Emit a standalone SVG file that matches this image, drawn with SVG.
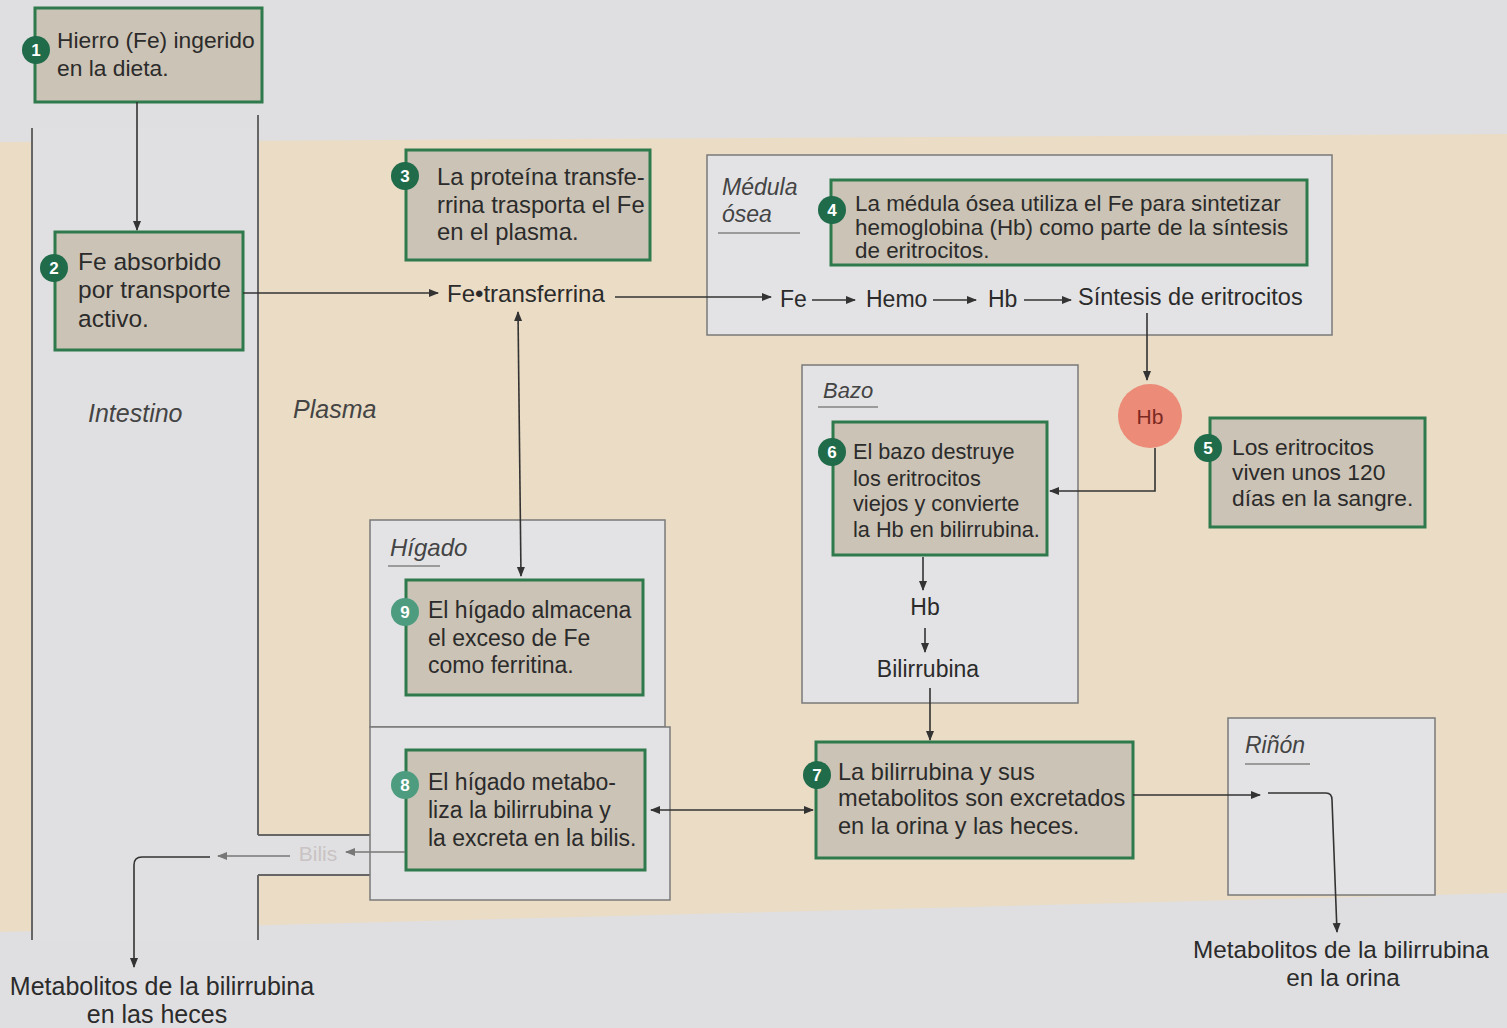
<svg xmlns="http://www.w3.org/2000/svg" width="1507" height="1028" viewBox="0 0 1507 1028">
<defs>
<marker id="ah" viewBox="0 0 10 10" refX="9" refY="5" markerWidth="10" markerHeight="10" markerUnits="userSpaceOnUse" orient="auto-start-reverse">
<path d="M0,1 L10,5 L0,9 Z" fill="#333"/>
</marker>
<marker id="ahl" viewBox="0 0 10 10" refX="9" refY="5" markerWidth="10" markerHeight="10" markerUnits="userSpaceOnUse" orient="auto-start-reverse">
<path d="M0,1 L10,5 L0,9 Z" fill="#777"/>
</marker>
<style>
text{font-family:"Liberation Sans",Arial,sans-serif;fill:#2b2b2b}
.lab{font-style:italic;fill:#444}
.node{fill:#cbc3b5;stroke:#2f7a4c;stroke-width:3}
.cont{fill:#e3e3e5;stroke:#7a7a7a;stroke-width:1.5}
.badge{fill:#1f6b4a}
.badge2{fill:#4d9c80}
.bn{font-size:17px;font-weight:bold;fill:#fff;text-anchor:middle}
.ul{stroke:#555;stroke-width:1.2}
.c{fill:none;stroke:#333;stroke-width:1.6}
.wall{stroke:#666;stroke-width:2}
</style>
</defs>
<rect x="0" y="0" width="1507" height="1028" fill="#dfdfe1"/>
<polygon points="0,142 1507,134 1507,893 0,932" fill="#eadcc5"/>
<!-- intestine column -->
<rect x="32" y="128" width="226" height="812" fill="#e0e0e2"/>
<rect x="258" y="835" width="112" height="40" fill="#e0e0e2"/>
<g id="intestine-walls">
<line class="wall" x1="32" y1="128" x2="32" y2="940"/>
<line class="wall" x1="258" y1="115" x2="258" y2="835"/>
<line class="wall" x1="258" y1="835" x2="370" y2="835"/>
<line class="wall" x1="258" y1="875" x2="370" y2="875"/>
<line class="wall" x1="258" y1="875" x2="258" y2="940"/>
</g>
<text class="lab" x="88" y="422" font-size="25">Intestino</text>
<text class="lab" x="293" y="418" font-size="25">Plasma</text>

<!-- containers -->
<g id="medula">
<rect class="cont" x="707" y="155" width="625" height="180"/>
<text class="lab" x="722" y="195" font-size="23">Médula</text>
<text class="lab" x="722" y="222" font-size="23">ósea</text>
<line class="ul" x1="718" y1="233" x2="800" y2="233"/>
</g>
<g id="bazo">
<rect class="cont" x="802" y="365" width="276" height="338"/>
<text class="lab" x="823" y="398" font-size="22">Bazo</text>
<line class="ul" x1="818" y1="407" x2="878" y2="407"/>
</g>
<g id="higado">
<rect class="cont" x="370" y="520" width="295" height="207"/>
<rect class="cont" x="370" y="727" width="300" height="173"/>
<text class="lab" x="390" y="556" font-size="24">Hígado</text>
<line class="ul" x1="388" y1="566" x2="440" y2="566"/>
</g>
<g id="rinon">
<rect class="cont" x="1228" y="718" width="207" height="177"/>
<text class="lab" x="1245" y="753" font-size="23">Riñón</text>
<line class="ul" x1="1245" y1="764" x2="1310" y2="764"/>
</g>

<!-- nodes -->
<g id="n1" font-size="22.8">
<rect class="node" x="35" y="8" width="227" height="94"/>
<circle class="badge" cx="36" cy="50" r="14"/><text class="bn" x="36" y="56">1</text>
<text x="57" y="48">Hierro (Fe) ingerido</text>
<text x="57" y="76">en la dieta.</text>
</g>
<g id="n2" font-size="24.5">
<rect class="node" x="55" y="232" width="188" height="118"/>
<circle class="badge" cx="54" cy="268" r="14"/><text class="bn" x="54" y="274">2</text>
<text x="78" y="270">Fe absorbido</text>
<text x="78" y="298">por transporte</text>
<text x="78" y="327">activo.</text>
</g>
<g id="n3" font-size="23.8">
<rect class="node" x="406" y="150" width="244" height="110"/>
<circle class="badge" cx="405" cy="176" r="14"/><text class="bn" x="405" y="182">3</text>
<text x="437" y="185">La proteína transfe-</text>
<text x="437" y="213">rrina trasporta el Fe</text>
<text x="437" y="240">en el plasma.</text>
</g>
<g id="n4" font-size="22.4">
<rect class="node" x="831" y="180" width="476" height="85"/>
<circle class="badge" cx="832" cy="210" r="14"/><text class="bn" x="832" y="216">4</text>
<text x="855" y="211">La médula ósea utiliza el Fe para sintetizar</text>
<text x="855" y="235">hemoglobina (Hb) como parte de la síntesis</text>
<text x="855" y="258">de eritrocitos.</text>
</g>
<g id="n5" font-size="22.8">
<rect class="node" x="1210" y="418" width="215" height="109"/>
<circle class="badge" cx="1208" cy="448" r="14"/><text class="bn" x="1208" y="454">5</text>
<text x="1232" y="455">Los eritrocitos</text>
<text x="1232" y="480">viven unos 120</text>
<text x="1232" y="506">días en la sangre.</text>
</g>
<g id="n6" font-size="21.7">
<rect class="node" x="833" y="422" width="214" height="133"/>
<circle class="badge" cx="832" cy="452" r="14"/><text class="bn" x="832" y="458">6</text>
<text x="853" y="459">El bazo destruye</text>
<text x="853" y="486">los eritrocitos</text>
<text x="853" y="511">viejos y convierte</text>
<text x="853" y="537">la Hb en bilirrubina.</text>
</g>
<g id="n7" font-size="23.6">
<rect class="node" x="816" y="742" width="317" height="116"/>
<circle class="badge" cx="817" cy="775" r="14"/><text class="bn" x="817" y="781">7</text>
<text x="838" y="780">La bilirrubina y sus</text>
<text x="838" y="806">metabolitos son excretados</text>
<text x="838" y="834">en la orina y las heces.</text>
</g>
<g id="n8" font-size="23">
<rect class="node" x="406" y="750" width="239" height="120"/>
<circle class="badge2" cx="405" cy="785" r="14"/><text class="bn" x="405" y="791">8</text>
<text x="428" y="790">El hígado metabo-</text>
<text x="428" y="818">liza la bilirrubina y</text>
<text x="428" y="846">la excreta en la bilis.</text>
</g>
<g id="n9" font-size="23">
<rect class="node" x="406" y="580" width="237" height="115"/>
<circle class="badge2" cx="405" cy="612" r="14"/><text class="bn" x="405" y="618">9</text>
<text x="428" y="618">El hígado almacena</text>
<text x="428" y="646">el exceso de Fe</text>
<text x="428" y="673">como ferritina.</text>
</g>
<g id="hb-circle">
<circle cx="1150" cy="416" r="32" fill="#ec8b78"/>
<text x="1150" y="424" font-size="21" text-anchor="middle" style="fill:#7a2a22">Hb</text>
</g>

<!-- inline labels -->
<g id="labels" font-size="23">
<text x="447" y="302" font-size="24">Fe•transferrina</text>
<text x="780" y="307">Fe</text>
<text x="866" y="307">Hemo</text>
<text x="988" y="307">Hb</text>
<text x="1078" y="305" font-size="23.5">Síntesis de eritrocitos</text>
<text x="925" y="615" text-anchor="middle">Hb</text>
<text x="928" y="677" text-anchor="middle">Bilirrubina</text>
<text x="318" y="861" font-size="21" text-anchor="middle" style="fill:#c9c3c3">Bilis</text>
<text x="1341" y="958" font-size="24.3" text-anchor="middle">Metabolitos de la bilirrubina</text>
<text x="1343" y="986" font-size="24.3" text-anchor="middle">en la orina</text>
<text x="162" y="995" font-size="25" text-anchor="middle">Metabolitos de la bilirrubina</text>
<text x="157" y="1023" font-size="25" text-anchor="middle">en las heces</text>
</g>

<!-- connectors -->
<g id="connectors">
<path class="c" d="M137,102 V230" marker-end="url(#ah)"/>
<path class="c" d="M243,293 H438" marker-end="url(#ah)"/>
<path class="c" d="M615,297 H771" marker-end="url(#ah)"/>
<path class="c" d="M812,300 H855" marker-end="url(#ah)"/>
<path class="c" d="M933,300 H976" marker-end="url(#ah)"/>
<path class="c" d="M1024,300 H1071" marker-end="url(#ah)"/>
<path class="c" d="M1147,313 V380" marker-end="url(#ah)"/>
<path class="c" d="M1155,448 V491 H1050" marker-end="url(#ah)"/>
<path class="c" d="M518,312 L521,576" marker-start="url(#ah)" marker-end="url(#ah)"/>
<path class="c" d="M923,557 V590" marker-end="url(#ah)"/>
<path class="c" d="M925,628 V652" marker-end="url(#ah)"/>
<path class="c" d="M930,688 V740" marker-end="url(#ah)"/>
<path class="c" d="M651,810 H813" marker-start="url(#ah)" marker-end="url(#ah)"/>
<path class="c" d="M1133,795 H1260" marker-end="url(#ah)"/>
<path class="c" d="M1268,793 H1326 Q1332,793 1332,800 L1337,932" marker-end="url(#ah)"/>
<path d="M405,852 H346" fill="none" stroke="#777" stroke-width="1.6" marker-end="url(#ahl)"/>
<path d="M290,856 H218" fill="none" stroke="#777" stroke-width="1.6" marker-end="url(#ahl)"/>
<path class="c" d="M210,857 H142 Q134,857 134,865 V967" marker-end="url(#ah)"/>
</g>
</svg>
